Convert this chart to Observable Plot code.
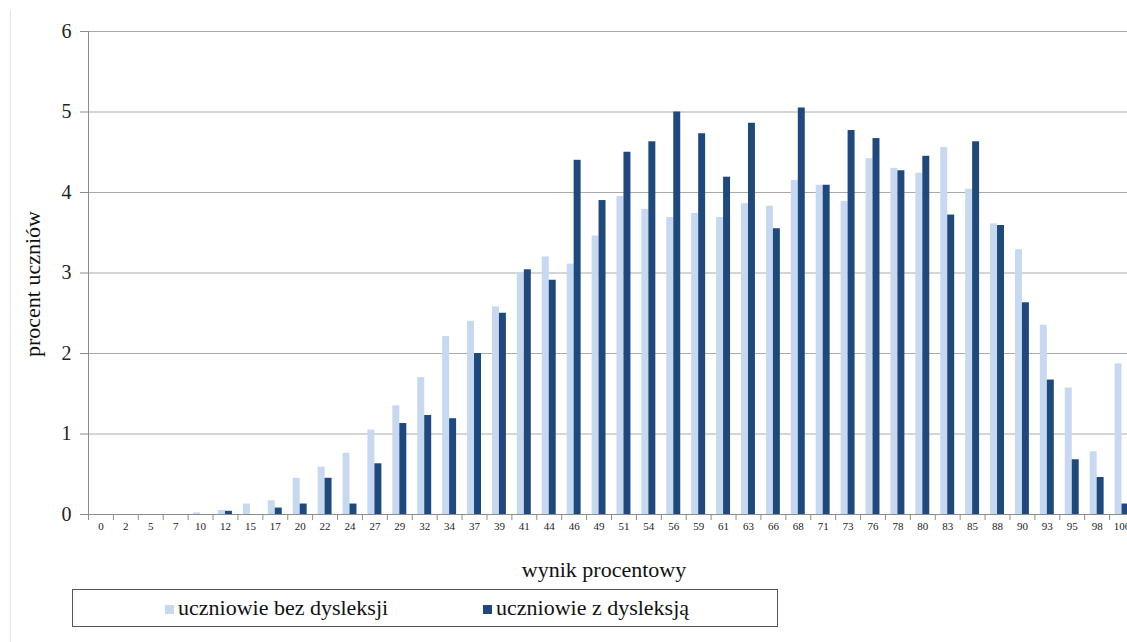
<!DOCTYPE html>
<html>
<head>
<meta charset="utf-8">
<script src="https://cdn.jsdelivr.net/npm/d3@7"></script>
<script src="https://cdn.jsdelivr.net/npm/@observablehq/plot@0.6"></script>
<style>
  html, body { margin: 0; padding: 0; background: #fff; }
  #wrap { position: relative; width: 1127px; height: 642px; overflow: hidden; font-family: 'Liberation Serif', 'Times New Roman', serif; }
  #wrap div { font-family: 'Liberation Serif', 'Times New Roman', serif; }
  #edge { position: absolute; left: 10px; top: 10px; width: 1px; height: 632px; background: #e4e4e4; }
  #chart { position: absolute; left: 0; top: 0; }
  #xlabel { position: absolute; top: 557px; left: 604px; transform: translateX(-50%); font-size: 22px; color: #111; white-space: nowrap; }
  #ylabel { position: absolute; top: 284px; left: 33px; transform: translate(-50%, -50%) rotate(-90deg); font-size: 22px; color: #111; white-space: nowrap; line-height: 1; }
  #legend { position: absolute; left: 72px; top: 589px; width: 706px; height: 38px; border: 1px solid #555; box-sizing: border-box; }
  #legend .item { position: absolute; top: 5px; font-size: 22px; color: #111; white-space: nowrap; font-family: 'Liberation Serif', 'Times New Roman', serif; }
  .sw { display: inline-block; width: 9px; height: 9px; margin-right: 4px; vertical-align: 1px; }
</style>
</head>
<body>
<div id="wrap">
  <div id="edge"></div>
  <div id="chart"></div>
  <div id="ylabel"></div>
  <div id="xlabel"></div>
  <div id="legend"></div>
</div>
<script>
const categories = ["0","2","5","7","10","12","15","17","20","22","24","27","29","32","34","37","39","41","44","46","49","51","54","56","59","61","63","66","68","71","73","76","78","80","83","85","88","90","93","95","98","100"];
const bezDysleksji = [0,0,0,0,0.02,0.05,0.13,0.17,0.45,0.59,0.76,1.05,1.35,1.70,2.21,2.40,2.58,3.00,3.20,3.11,3.46,3.95,3.79,3.69,3.74,3.69,3.86,3.83,4.15,4.09,3.89,4.42,4.30,4.24,4.56,4.04,3.61,3.29,2.35,1.57,0.78,1.87];
const zDysleksja = [0,0,0,0,0,0.04,0,0.08,0.13,0.45,0.13,0.63,1.13,1.23,1.19,2.00,2.50,3.04,2.91,4.40,3.90,4.50,4.63,5.00,4.73,4.19,4.86,3.55,5.05,4.09,4.77,4.67,4.27,4.45,3.72,4.63,3.59,2.63,1.67,0.68,0.46,0.13];
const yTicks = [0,1,2,3,4,5,6];
const seriesNames = ["uczniowie bez dysleksji", "uczniowie z dysleksją"];
const colors = ["#c6d9f1", "#1f497d"];
const xTitle = "wynik procentowy";
const yTitle = "procent uczniów";

const data = categories.map((c, i) => ({cat: c, bez: bezDysleksji[i], z: zDysleksja[i]}));

const serif = "'Liberation Serif', 'Times New Roman', serif";
const rangeL = 88, rangeR = 1134;
const step = (rangeR - rangeL) / categories.length;
const bw = step * 0.56;
const gridColor = "#aaaaaa";

const chart = Plot.plot({
  width: 1127,
  height: 545,
  marginLeft: 88,
  marginRight: 0,
  marginTop: 31,
  marginBottom: 31,
  style: {fontFamily: serif, background: "transparent", color: "#111"},
  x: {domain: categories, range: [rangeL, rangeR], paddingInner: 0.44, paddingOuter: 0.22, axis: null, label: null},
  y: {domain: [0, 6], axis: null, label: null},
  marks: [
    Plot.gridY(yTicks, {stroke: gridColor, strokeOpacity: 1}),
    Plot.barY(data, {x: "cat", y: "bez", fill: colors[0], insetRight: bw / 2}),
    Plot.barY(data, {x: "cat", y: "z", fill: colors[1], insetLeft: bw / 2}),
    Plot.ruleY([0], {stroke: "#8c8c8c"}),
    Plot.ruleX([categories[0]], {y1: 0, y2: 6, dx: -step / 2, stroke: "#8c8c8c"}),
    Plot.axisX(categories, {tickSize: 6, tickFormat: () => "", dx: -step / 2, stroke: "#8c8c8c", label: null}),
    Plot.axisX(categories, {tickSize: 0, tickPadding: 8, fontSize: 11, fontFamily: serif, fill: "#222", label: null}),
    Plot.axisY(yTicks, {tickSize: 8, tickPadding: 9, fontSize: 20, fontFamily: serif, tickFormat: d3.format("d"), stroke: "#8c8c8c", fill: "#222", label: null})
  ]
});
document.getElementById("chart").appendChild(chart);
document.getElementById("xlabel").textContent = xTitle;
document.getElementById("ylabel").textContent = yTitle;

const legend = document.getElementById("legend");
const lefts = [92, 410];
seriesNames.forEach((name, i) => {
  const it = document.createElement("div");
  it.className = "item";
  it.style.left = lefts[i] + "px";
  const sw = document.createElement("span");
  sw.className = "sw";
  sw.style.background = colors[i];
  it.appendChild(sw);
  it.appendChild(document.createTextNode(name));
  legend.appendChild(it);
});
</script>
</body>
</html>
